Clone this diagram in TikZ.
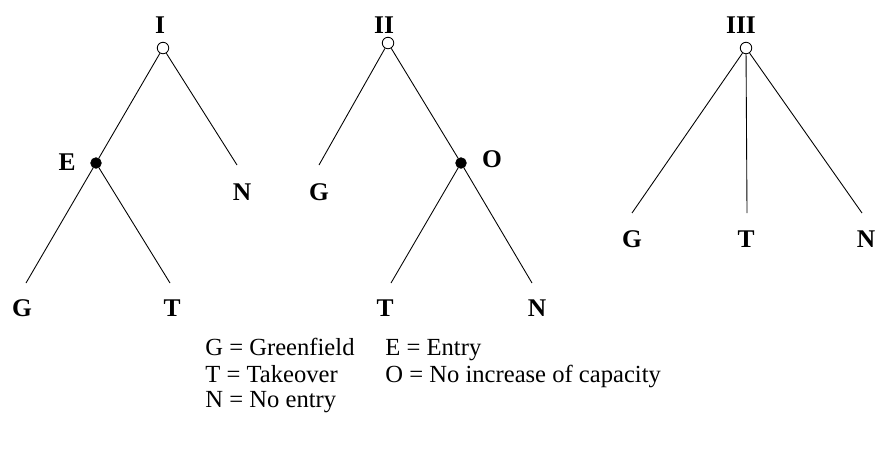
\documentclass[tikz,border=0pt]{standalone}
\usepackage{fontspec}
\setmainfont{Liberation Serif}
\begin{document}
\begin{tikzpicture}[x=0.02cm, y=-0.02cm, line width=0.5pt,
    font=\fontsize{14}{17}\selectfont,
    opennode/.style={circle, draw, fill=white, inner sep=0pt, minimum size=0.23cm},
    fullnode/.style={circle, draw, fill=black, inner sep=0pt, minimum size=0.21cm},
    lbl/.style={font=\fontsize{14.5}{17}\selectfont\bfseries, anchor=base},
    key/.style={anchor=base west, inner sep=0pt}]
    \useasboundingbox (0,0) rectangle (878,450);

    % Tree I
    \node[opennode] (r1) at (163,48) {};
    \node[fullnode] (e1) at (96,163) {};
    \coordinate (n1) at (237,165);
    \coordinate (g1) at (26,283);
    \coordinate (t1) at (170,283);
    \draw (r1) -- (e1) (r1) -- (n1);
    \draw (e1) -- (g1) (e1) -- (t1);
    \node[lbl] (lI) at (160,33) {I};
    \node[lbl] (lE) at (67,170) {E};
    \node[lbl] (lN1) at (242,200) {N};
    \node[lbl] (lG1) at (22,316) {G};
    \node[lbl] (lT1) at (172,316) {T};

    % Tree II
    \node[opennode] (r2) at (388,43) {};
    \node[fullnode] (o2) at (461,163) {};
    \coordinate (g2) at (319,165);
    \coordinate (t2) at (391,283);
    \coordinate (n2) at (532,283);
    \draw (r2) -- (g2) (r2) -- (o2);
    \draw (o2) -- (t2) (o2) -- (n2);
    \node[lbl] (lII) at (384,33) {II};
    \node[lbl] (lO) at (492,167) {O};
    \node[lbl] (lG2) at (319,200) {G};
    \node[lbl] (lT2) at (385,316) {T};
    \node[lbl] (lN2) at (537,316) {N};

    % Tree III
    \node[opennode] (r3) at (746,48) {};
    \coordinate (g3) at (632,213);
    \coordinate (t3) at (747,213);
    \coordinate (n3) at (862,213);
    \draw (r3) -- (g3) (r3) -- (t3) (r3) -- (n3);
    \node[lbl] (lIII) at (741,33) {III};
    \node[lbl] (lG3) at (632,247) {G};
    \node[lbl] (lT3) at (746,247) {T};
    \node[lbl] (lN3) at (866,247) {N};

    % Legend
    \node[key] (kG) at (205,355) {G = Greenfield};
    \node[key] (kT) at (205,382) {T = Takeover};
    \node[key] (kN) at (205,407) {N = No entry};
    \node[key] (kE) at (385,355) {E = Entry};
    \node[key] (kO) at (385,382) {O = No increase of capacity};
\end{tikzpicture}
\end{document}
